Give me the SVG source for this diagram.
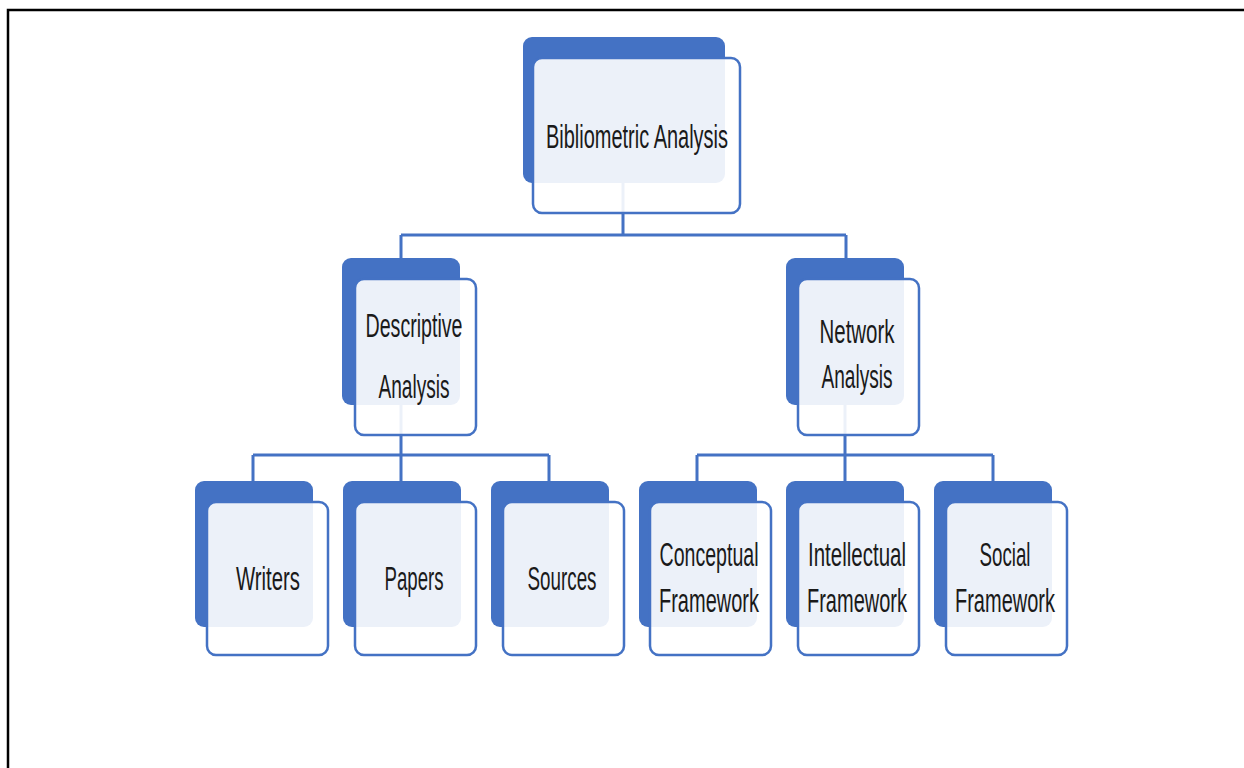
<svg xmlns="http://www.w3.org/2000/svg" width="1244" height="768" viewBox="0 0 1244 768">
<style>
.back{fill:#4472C4;}
.front{fill:#FFFFFF;fill-opacity:0.9;stroke:#4472C4;stroke-width:2.5;}
.conn{fill:none;stroke:#4472C4;stroke-width:3;}
.lbl{font-family:"Liberation Sans Narrow","Liberation Sans","DejaVu Sans Condensed",sans-serif;font-size:33px;fill:#1a1a1a;text-anchor:middle;}
</style>
<rect width="1244" height="768" fill="#FFFFFF"/>
<path d="M8 768 V10 H1244" fill="none" stroke="#000" stroke-width="2.5"/>
<g id="connectors">
<path class="conn" d="M623 150 V235 M401 235 H846 M401 235 V270 M846 235 V270"/>
<path class="conn" d="M401 380 V455 M253 455 H549 M253 455 V490 M401 455 V490 M549 455 V490"/>
<path class="conn" d="M845 380 V455 M697 455 H993 M697 455 V490 M845 455 V490 M993 455 V490"/>
</g>
<g id="bibliometric">
<rect class="back" x="523" y="37" width="202" height="146" rx="9"/>
<rect class="front" x="533" y="58" width="207" height="155" rx="9"/>
<text class="lbl" x="637" y="148" textLength="182" lengthAdjust="spacingAndGlyphs">Bibliometric Analysis</text>
</g>
<g id="descriptive">
<rect class="back" x="342" y="258" width="118" height="147" rx="9"/>
<rect class="front" x="355" y="279" width="121" height="156" rx="9"/>
<text class="lbl" x="414" y="337" textLength="97" lengthAdjust="spacingAndGlyphs">Descriptive</text>
<text class="lbl" x="414" y="398" textLength="71" lengthAdjust="spacingAndGlyphs">Analysis</text>
</g>
<g id="network">
<rect class="back" x="786" y="258" width="118" height="147" rx="9"/>
<rect class="front" x="798" y="279" width="121" height="156" rx="9"/>
<text class="lbl" x="857" y="343" textLength="75" lengthAdjust="spacingAndGlyphs">Network</text>
<text class="lbl" x="857" y="388" textLength="71" lengthAdjust="spacingAndGlyphs">Analysis</text>
</g>
<g id="writers">
<rect class="back" x="195" y="481" width="118" height="146" rx="9"/>
<rect class="front" x="207" y="502" width="121" height="153" rx="9"/>
<text class="lbl" x="268" y="590" textLength="64" lengthAdjust="spacingAndGlyphs">Writers</text>
</g>
<g id="papers">
<rect class="back" x="343" y="481" width="118" height="146" rx="9"/>
<rect class="front" x="355" y="502" width="121" height="153" rx="9"/>
<text class="lbl" x="414" y="590" textLength="59" lengthAdjust="spacingAndGlyphs">Papers</text>
</g>
<g id="sources">
<rect class="back" x="491" y="481" width="118" height="146" rx="9"/>
<rect class="front" x="503" y="502" width="121" height="153" rx="9"/>
<text class="lbl" x="562" y="590" textLength="69" lengthAdjust="spacingAndGlyphs">Sources</text>
</g>
<g id="conceptual">
<rect class="back" x="639" y="481" width="118" height="146" rx="9"/>
<rect class="front" x="650" y="502" width="121" height="153" rx="9"/>
<text class="lbl" x="709" y="566" textLength="99" lengthAdjust="spacingAndGlyphs">Conceptual</text>
<text class="lbl" x="709" y="612" textLength="100" lengthAdjust="spacingAndGlyphs">Framework</text>
</g>
<g id="intellectual">
<rect class="back" x="786" y="481" width="118" height="146" rx="9"/>
<rect class="front" x="798" y="502" width="121" height="153" rx="9"/>
<text class="lbl" x="857" y="566" textLength="98" lengthAdjust="spacingAndGlyphs">Intellectual</text>
<text class="lbl" x="857" y="612" textLength="100" lengthAdjust="spacingAndGlyphs">Framework</text>
</g>
<g id="social">
<rect class="back" x="934" y="481" width="118" height="146" rx="9"/>
<rect class="front" x="946" y="502" width="121" height="153" rx="9"/>
<text class="lbl" x="1005" y="566" textLength="51" lengthAdjust="spacingAndGlyphs">Social</text>
<text class="lbl" x="1005" y="612" textLength="100" lengthAdjust="spacingAndGlyphs">Framework</text>
</g>
</svg>
